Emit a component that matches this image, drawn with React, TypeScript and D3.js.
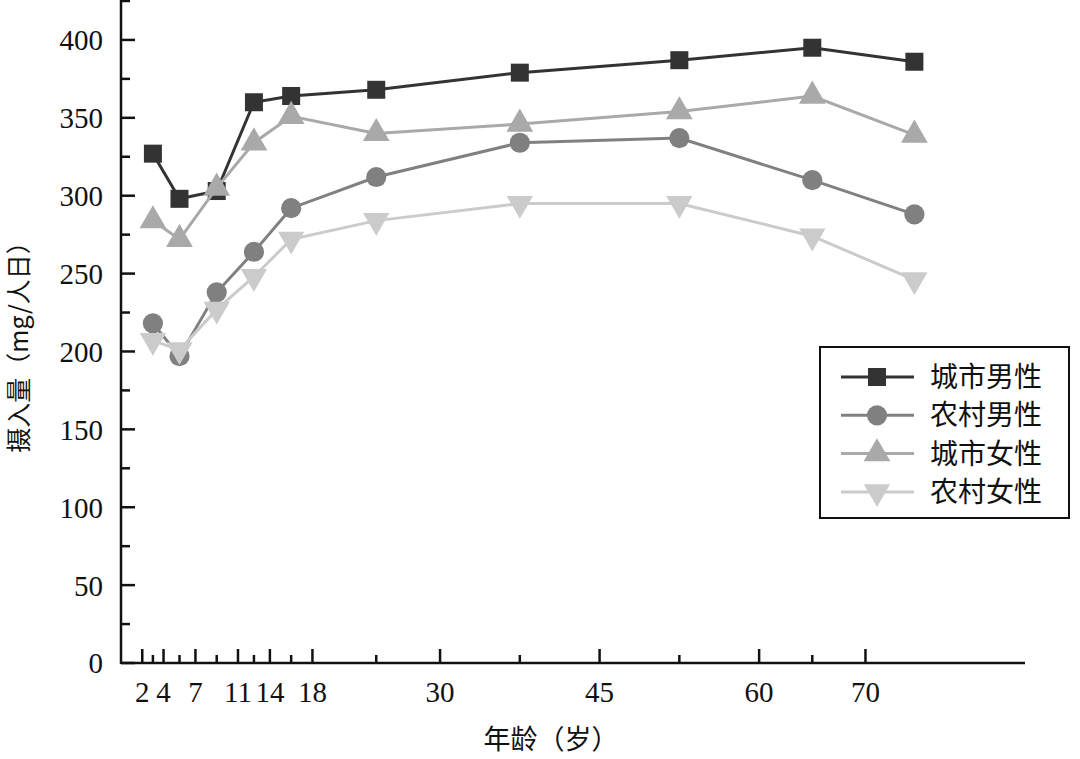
import React from 'react'
import * as d3 from 'd3'

// 年龄组中点
const ages = [3, 5.5, 9, 12.5, 16, 24, 37.5, 52.5, 65, 74.6]
const cityMale = [327, 298, 303, 360, 364, 368, 379, 387, 395, 386]
const ruralMale = [218, 197, 238, 264, 292, 312, 334, 337, 310, 288]
const cityFemale = [284, 272, 305, 334, 351, 340, 346, 354, 364, 339]
const ruralFemale = [207, 201, 227, 248, 272, 284, 295, 295, 274, 246]

const seriesNames = ['城市男性', '农村男性', '城市女性', '农村女性']
const xTickLabels = [2, 4, 7, 11, 14, 18, 30, 45, 60, 70]
const yTickLabels = [0, 50, 100, 150, 200, 250, 300, 350, 400]

const width = 1080,
    height = 759

const serif = '"Liberation Serif", "DejaVu Serif", serif'
const cjk = '"Noto Sans CJK SC", sans-serif'

const x = d3.scaleLinear([0, 85], [121, 1025])
const y = d3.scaleLinear([0, 425], [663, 1])

const styles = [
    { color: '#333333', symbol: d3.symbolSquare, size: 324, rotate: 0 },
    { color: '#808080', symbol: d3.symbolCircle, size: 320, rotate: 0 },
    { color: '#a9a9a9', symbol: d3.symbolTriangle, size: 310, rotate: 0 },
    { color: '#cbcbcb', symbol: d3.symbolTriangle, size: 300, rotate: 180 },
]

const allSeries = [cityMale, ruralMale, cityFemale, ruralFemale]

export default function App() {
    const line = d3.line<number>()
        .x((d, i) => x(ages[i]))
        .y(d => y(d))

    const yMinor = d3.range(25, 426, 50)
    const xMinor = ages.slice(0, ages.length - 1)

    return (
        <svg width={width} height={height} style={{ position: 'absolute', left: 0, top: 0, background: '#fff' }}>
            {/* axes */}
            <g stroke="#111" strokeWidth={2.5} fill="none">
                <line x1={x(0)} x2={x(0)} y1={y(0) + 1} y2={0} />
                <line x1={x(0)} x2={x(85)} y1={y(0)} y2={y(0)} />
                {yTickLabels.map(t => (
                    <line key={'ym' + t} x1={x(0)} x2={x(0) + 14} y1={y(t)} y2={y(t)} />
                ))}
                {yMinor.map(t => (
                    <line key={'yn' + t} x1={x(0)} x2={x(0) + 9} y1={y(t)} y2={y(t)} />
                ))}
                {xTickLabels.map(t => (
                    <line key={'xm' + t} x1={x(t)} x2={x(t)} y1={y(0)} y2={y(0) - 14} />
                ))}
                {xMinor.map(t => (
                    <line key={'xn' + t} x1={x(t)} x2={x(t)} y1={y(0)} y2={y(0) - 8} />
                ))}
            </g>
            <g fontFamily={serif} fontSize={29} fill="#111">
                {yTickLabels.map(t => (
                    <text key={'yl' + t} x={103} y={y(t)} dy="0.36em" textAnchor="end">{t}</text>
                ))}
                {xTickLabels.map(t => (
                    <text key={'xl' + t} x={x(t)} y={702} textAnchor="middle">{t}</text>
                ))}
            </g>
            <text x={551} y={749} textAnchor="middle" fontFamily={cjk} fontSize={27} fill="#111">年龄（岁）</text>
            <text transform="translate(28,341) rotate(-90)" textAnchor="middle" fontFamily={cjk} fontSize={25} fill="#111">
                摄入量（mg/人日）
            </text>

            {/* series */}
            {allSeries.map((values, s) => (
                <g key={seriesNames[s]}>
                    <path d={line(values) || ''} fill="none" stroke={styles[s].color} strokeWidth={3} />
                    {values.map((v, i) => (
                        <path
                            key={i}
                            transform={`translate(${x(ages[i])},${y(v)}) rotate(${styles[s].rotate})`}
                            d={d3.symbol(styles[s].symbol, styles[s].size)() || ''}
                            fill={styles[s].color}
                        />
                    ))}
                </g>
            ))}

            {/* legend */}
            <g>
                <rect x={820} y={347} width={249} height={171} fill="#fff" stroke="#111" strokeWidth={2} />
                {seriesNames.map((name, i) => {
                    const ly = 377 + i * 38.3
                    return (
                        <g key={name}>
                            <line x1={841} x2={914} y1={ly} y2={ly} stroke={styles[i].color} strokeWidth={3} />
                            <path
                                transform={`translate(877,${ly}) rotate(${styles[i].rotate})`}
                                d={d3.symbol(styles[i].symbol, styles[i].size)() || ''}
                                fill={styles[i].color}
                            />
                            <text x={930} y={ly} dy="0.36em" fontFamily={cjk} fontSize={28} fill="#111">{name}</text>
                        </g>
                    )
                })}
            </g>
        </svg>
    )
}
